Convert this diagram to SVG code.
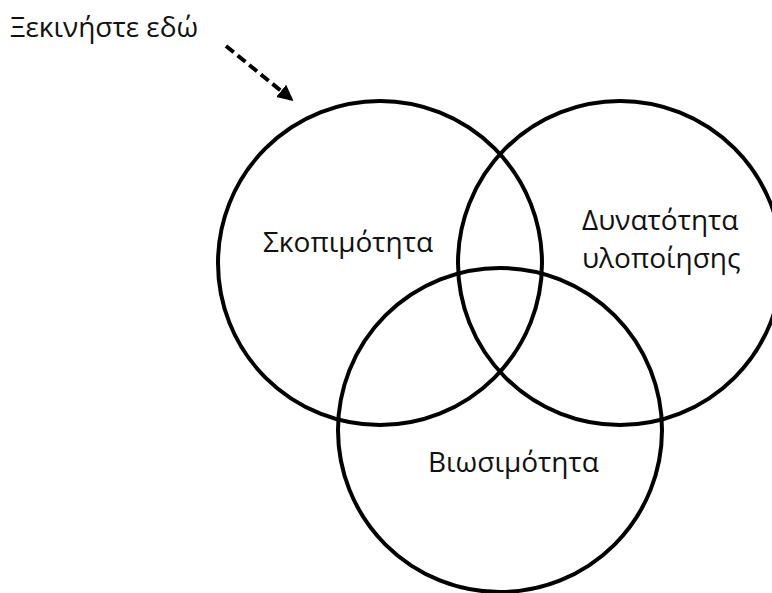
<svg xmlns="http://www.w3.org/2000/svg" width="772" height="593" viewBox="0 0 772 593">
<style>
.c{fill:none;stroke:#000;stroke-width:4}
.t{font-family:"Open Sans","Noto Sans","DejaVu Sans",sans-serif;font-size:28px;fill:#111}
.a{fill:none;stroke:#000;stroke-width:4;stroke-dasharray:10 5}
</style>
<defs>
<marker id="ah" viewBox="0 0 10 10" refX="8" refY="5" markerWidth="4" markerHeight="4" orient="auto" markerUnits="strokeWidth">
<path d="M0,0 L10,5 L0,10 z" fill="#000"/>
</marker>
</defs>
<rect width="772" height="593" fill="#fff"/>
<g id="start">
<text class="t" x="10" y="37">Ξεκινήστε εδώ</text>
</g>
<g id="connectors">
<line class="a" x1="226" y1="46" x2="291" y2="99" marker-end="url(#ah)"/>
</g>
<g id="skopimotita">
<circle class="c" cx="380" cy="263" r="162"/>
<text class="t" x="263" y="252">Σκοπιμότητα</text>
</g>
<g id="dynatotita">
<circle class="c" cx="620" cy="263" r="162"/>
<text class="t" x="582" y="230">Δυνατότητα</text>
<text class="t" x="582" y="268">υλοποίησης</text>
</g>
<g id="viosimotita">
<circle class="c" cx="500" cy="430" r="162"/>
<text class="t" x="428" y="472">Βιωσιμότητα</text>
</g>
</svg>
